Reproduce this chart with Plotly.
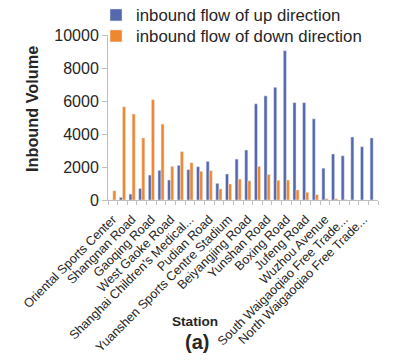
import plotly.graph_objects as go

stations = [
    "Oriental Sports Center", "South Lingyan Road", "Shangnan Road", "West Huaxia Road",
    "Gaoqing Road", "Dongming Road", "West Gaoke Road", "Linyi Xincun",
    "Shanghai Children's Medical...", "Lancun Road", "Pudian Road", "Century Avenue",
    "Yuanshen Sports Centre Stadium", "Minsheng Road", "Beiyangjing Road", "Deping Road",
    "Yunshan Road", "Jinqiao Road", "Boxing Road", "Wulian Road",
    "Jufeng Road", "Dongjing Road", "Wuzhou Avenue", "Zhouhai Road",
    "South Waigaoqiao Free Trade...", "Hangjin Road", "North Waigaoqiao Free Trade...", "Gangcheng Road",
]
up_flow = [0, 160, 360, 700, 1510, 1800, 1210, 2100,
           1840, 2020, 2340, 1010, 1575, 2480, 3030, 5830,
           6310, 6830, 9050, 5900, 5900, 4920, 1930, 2790,
           2680, 3820, 3230, 3760]
down_flow = [560, 5650, 5210, 3760, 6080, 4600, 2040, 2930,
             2260, 1740, 1780, 670, 970, 1265, 1160, 2035,
             1550, 1195, 1210, 610, 470, 325, 80, 80,
             20, 0, 0, 0]
tick_text = [s if i % 2 == 0 else "" for i, s in enumerate(stations)]
y_ticks = [0, 2000, 4000, 6000, 8000, 10000]
y_tick_text = [str(v) for v in y_ticks]

BLUE = "#5567AD"
ORANGE = "#F0872F"
FONT = "Liberation Sans, Arial, sans-serif"

fig = go.Figure()
fig.add_bar(x=stations, y=up_flow, name="inbound flow of up direction",
            marker_color=BLUE, legend="legend")
fig.add_bar(x=stations, y=down_flow, name="inbound flow of down direction",
            marker_color=ORANGE, legend="legend2")

W, H = 396, 362
L, R, T, B = 108, 18, 35, 162
pw, ph = W - L - R, H - T - B

def px(x):
    return (x - L) / pw

def py(y):
    return (H - B - y) / ph

legend_style = dict(xanchor="left", yanchor="middle", bgcolor="rgba(0,0,0,0)",
                    font=dict(size=16.8, color="#262626"), itemwidth=30)

fig.update_layout(
    width=W, height=H,
    margin=dict(l=L, r=R, t=T, b=B, autoexpand=False),
    paper_bgcolor="white", plot_bgcolor="white",
    barmode="group", bargap=0.36, bargroupgap=0.0,
    font=dict(family=FONT, color="#262626"),
    showlegend=True,
    legend=dict(x=px(96), y=py(15), **legend_style),
    legend2=dict(x=px(96), y=py(36), **legend_style),
    xaxis=dict(
        type="category", tickmode="array", tickvals=stations, ticktext=tick_text,
        tickson="boundaries", ticks="outside", ticklen=4, tickcolor="#bfbfbf",
        tickangle=-45, tickfont=dict(size=12.6, color="#262626"), ticklabelstandoff=6,
        showline=True, linecolor="#bfbfbf", linewidth=1,
        showgrid=False, automargin=False,
    ),
    yaxis=dict(
        range=[0, 10000], tickmode="array", tickvals=y_ticks, ticktext=y_tick_text,
        ticks="outside", ticklen=5,
        tickcolor="#bfbfbf", tickfont=dict(size=16, color="#262626"),
        showline=True, linecolor="#bfbfbf", linewidth=1,
        showgrid=False, zeroline=False, automargin=False,
    ),
    annotations=[
        dict(text="<b>Inbound Volume</b>", textangle=-90, xref="paper", yref="paper",
             x=px(32), y=py(109), xanchor="center", yanchor="middle", showarrow=False,
             font=dict(size=16.3, color="#262626")),
        dict(text="<b>Station</b>", xref="paper", yref="paper",
             x=px(195), y=py(321), xanchor="center", yanchor="middle", showarrow=False,
             font=dict(size=13.6, color="#262626")),
        dict(text="<b>(a)</b>", xref="paper", yref="paper",
             x=px(197), y=py(342), xanchor="center", yanchor="middle", showarrow=False,
             font=dict(size=20, color="#262626")),
    ],
)

fig.write_html("out.html", config={"displayModeBar": False},
               post_script="document.body.style.margin='0';")
